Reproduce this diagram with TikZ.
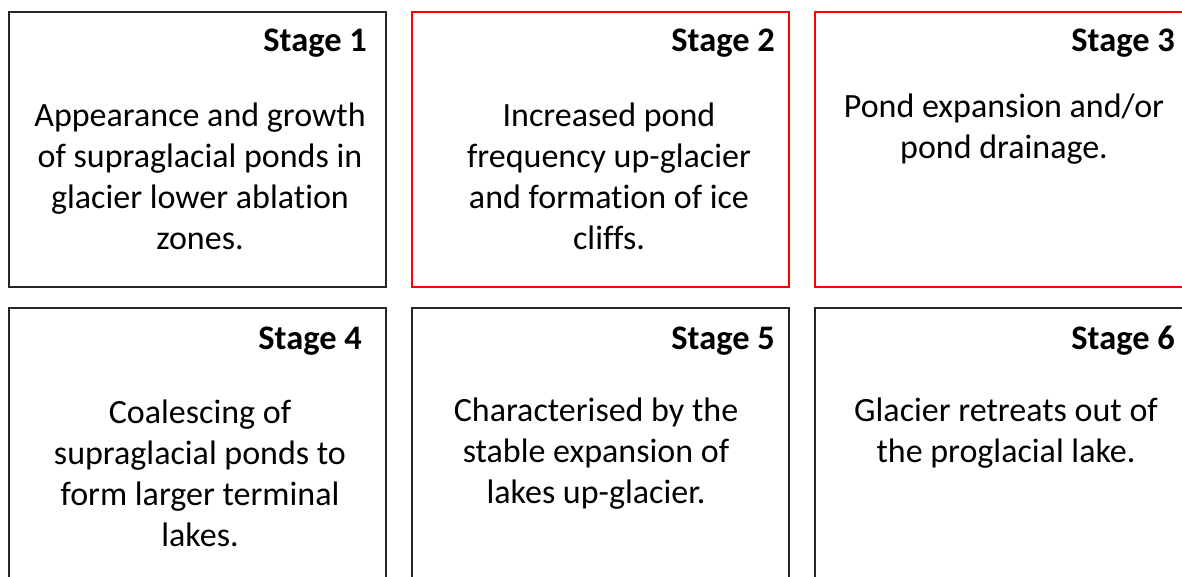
\documentclass[tikz,border=0pt]{standalone}
\usepackage{fontspec}
\setmainfont{Carlito}[Ligatures=NoCommon]
\begin{document}
\begin{tikzpicture}[x=0.75pt,y=-0.75pt,
  blackbox/.style={draw=black!85,line width=1.3pt},
  redbox/.style={draw=red,line width=1.6pt},
  head/.style={font=\fontsize{25.8}{30}\selectfont\bfseries,anchor=east,inner sep=0pt},
  body/.style={font=\fontsize{25.5}{30.75}\selectfont,align=center,inner sep=0pt}]
\useasboundingbox (0,0) rectangle (1182,577);
\clip (0,0) rectangle (1182,577);
% row 1
\draw[blackbox] (9,12) rectangle (386,287);
\draw[redbox] (412,12) rectangle (789,287);
\draw[redbox] (815,12) rectangle (1200,287);
% row 2
\draw[blackbox] (9,600) -- (9,308) -- (386,308) -- (386,600);
\draw[blackbox] (412,600) -- (412,308) -- (789,308) -- (789,600);
\draw[blackbox] (815,600) -- (815,308) -- (1200,308);
% headings
\node[head] (h1) at (367,43) {Stage 1};
\node[head] (h2) at (775,43) {Stage 2};
\node[head] (h3) at (1175,43) {Stage 3};
\node[head] (h4) at (362,341) {Stage 4};
\node[head] (h5) at (775,341) {Stage 5};
\node[head] (h6) at (1175,341) {Stage 6};
% bodies
\node[body] (b1) at (200,176) {Appearance and growth\\of supraglacial ponds in\\glacier lower ablation\\zones.};
\node[body] (b2) at (609,176) {Increased pond\\frequency up-glacier\\and formation of ice\\cliffs.};
\node[body] (b3) at (1004,129) {Pond expansion and/or\\pond drainage.};
\node[body] (b4) at (200,473) {Coalescing of\\supraglacial ponds to\\form larger terminal\\lakes.};
\node[body] (b5) at (596,454) {Characterised by the\\stable expansion of\\lakes up-glacier.};
\node[body] (b6) at (1006,433) {Glacier retreats out of\\the proglacial lake.};
\end{tikzpicture}
\end{document}
